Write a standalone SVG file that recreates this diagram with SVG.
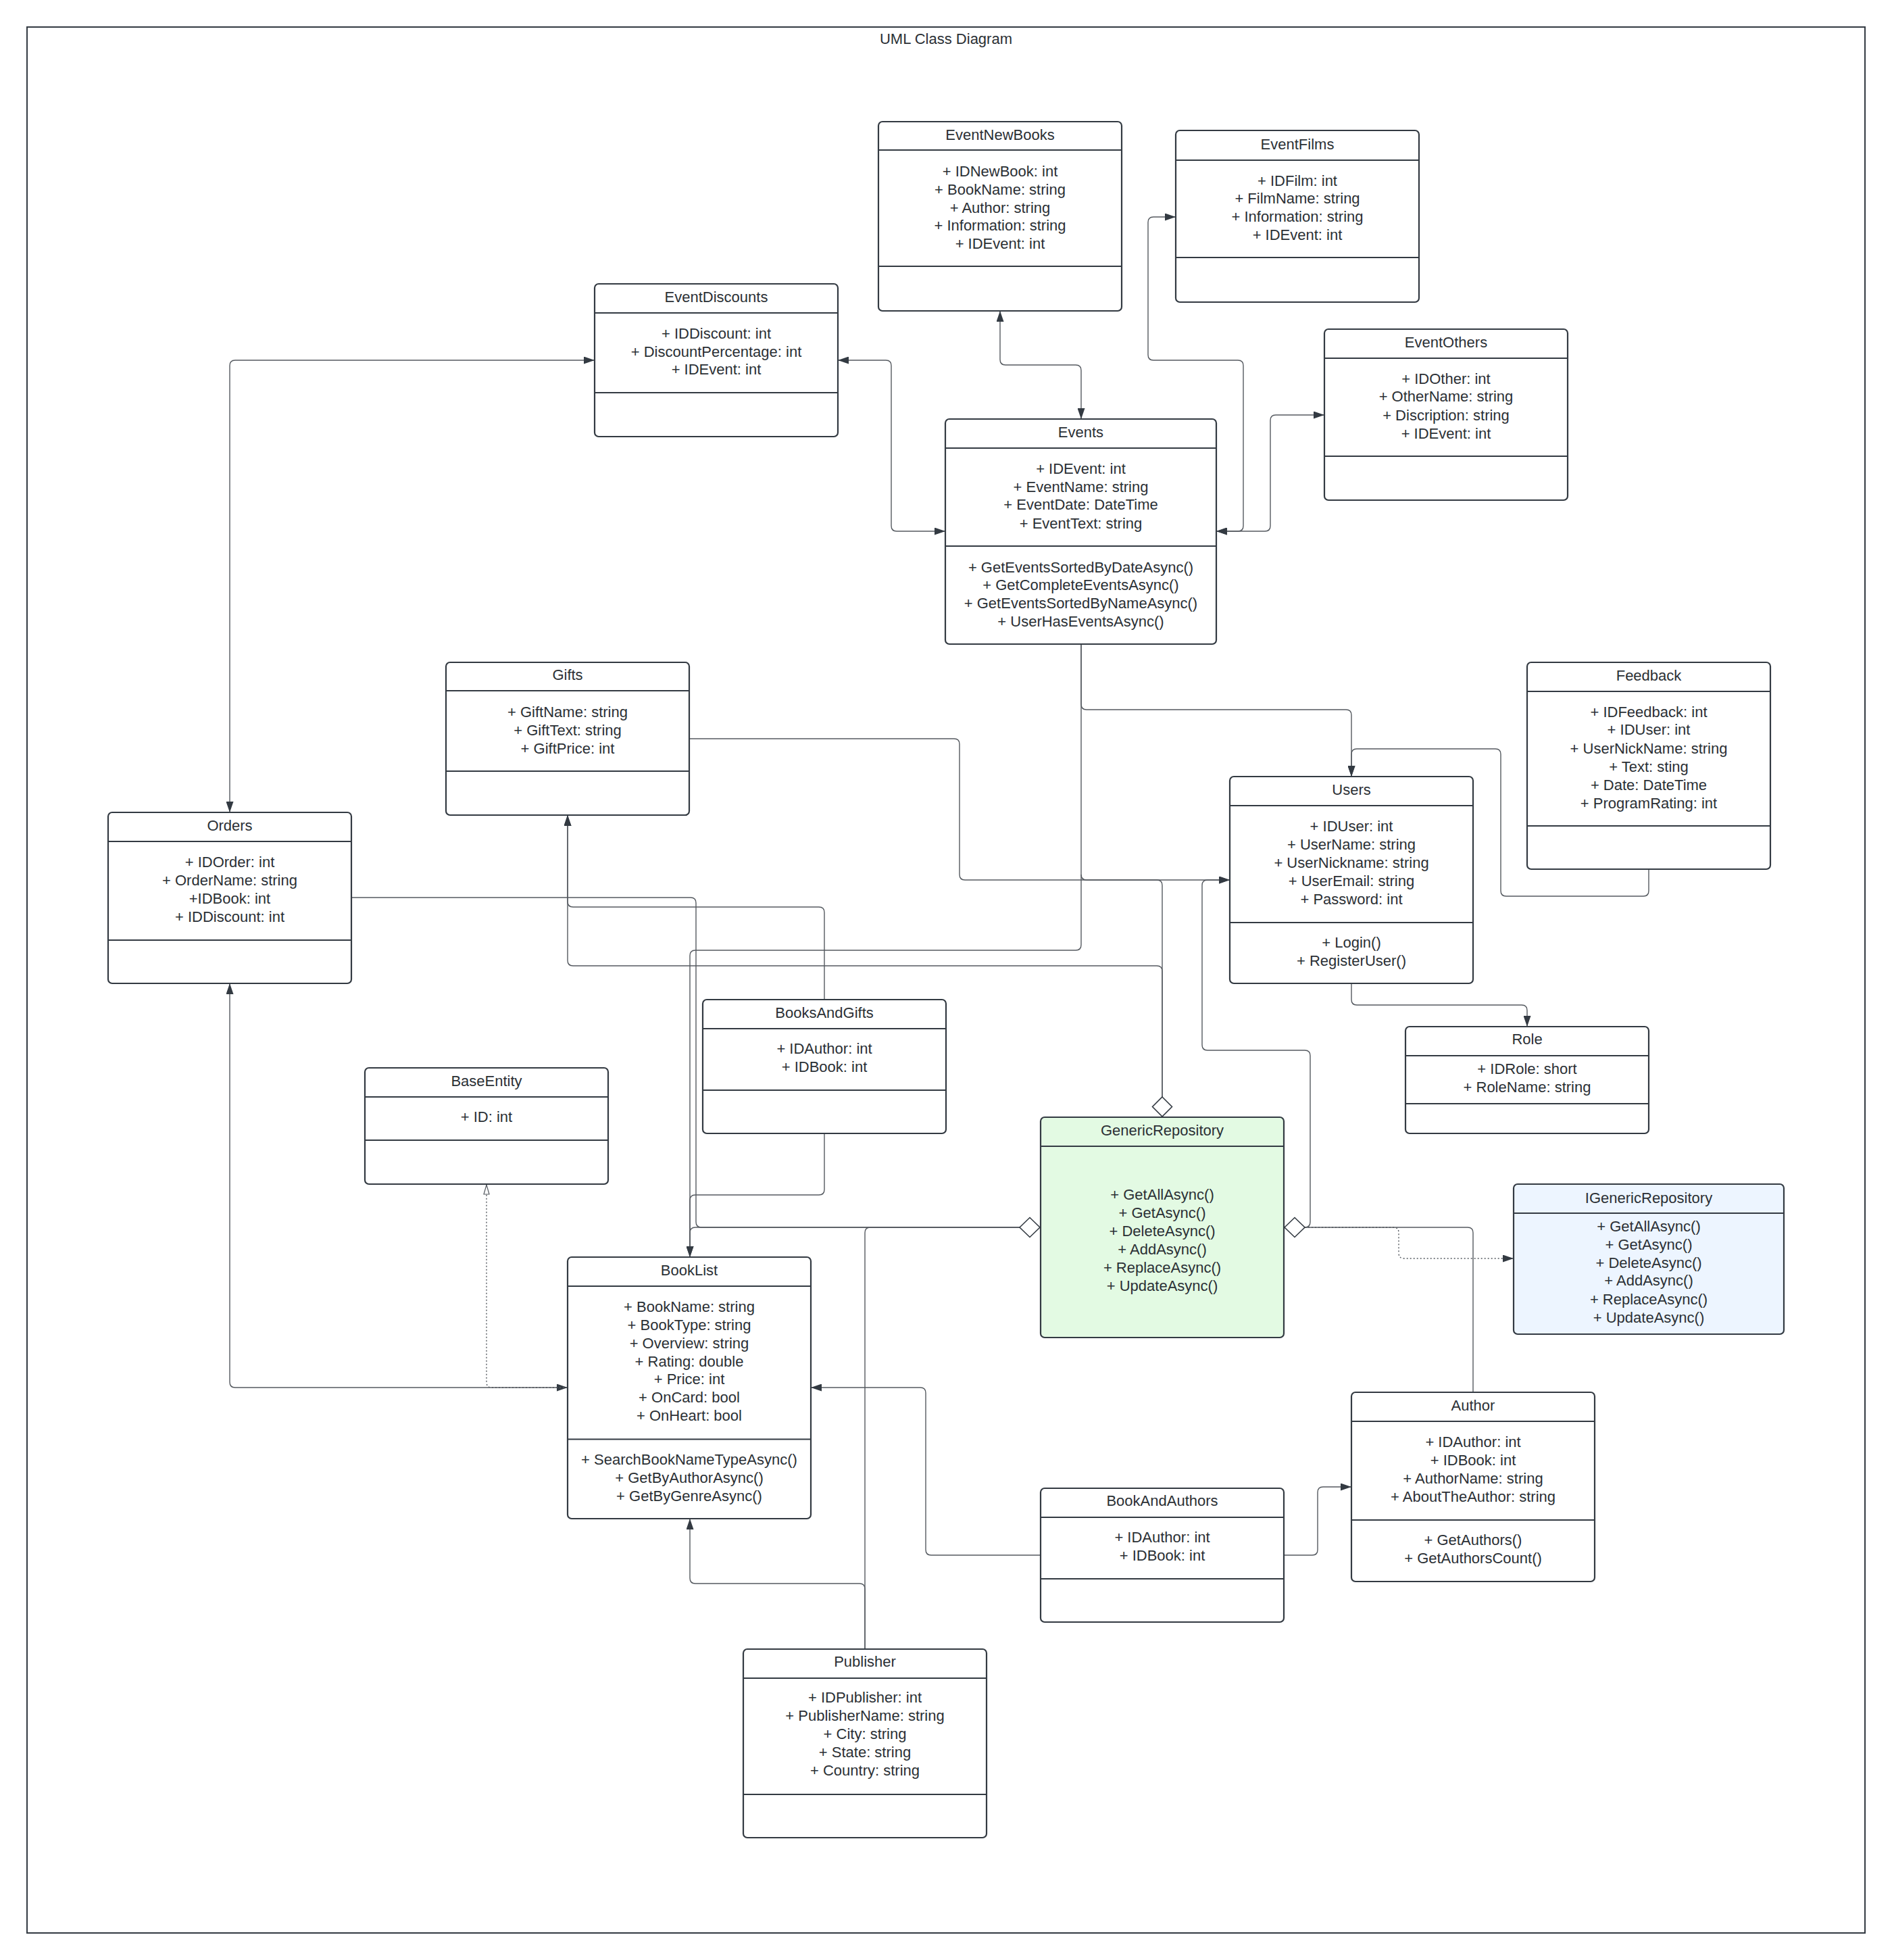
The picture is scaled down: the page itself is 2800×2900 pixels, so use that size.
<svg xmlns="http://www.w3.org/2000/svg" width="2800" height="2900" viewBox="0 0 2800 2900">
  <style>
    .box { fill: #ffffff; stroke: #333a42; stroke-width: 2.2; }
    .green { fill: #e3fae3; }
    .blue { fill: #edf5ff; }
    .div { stroke: #333a42; stroke-width: 2.2; }
    .t { font-family: "Liberation Sans", Arial, sans-serif; font-size: 22px; fill: #2b3035; text-anchor: middle; }
    .c { fill: none; stroke: #555a60; stroke-width: 1.4; }
    .dot { fill: none; stroke: #555a60; stroke-width: 1.4; stroke-dasharray: 2 3; }
    .dia { fill: #ffffff; stroke: #333a42; stroke-width: 1.6; }
  </style>
  <defs>
    <marker id="arrow" viewBox="0 0 16 11" refX="16" refY="5.5" markerWidth="16" markerHeight="11" markerUnits="userSpaceOnUse" orient="auto-start-reverse">
      <path d="M0,0 L16,5.5 L0,11 z" fill="#333a42"/>
    </marker>
    <marker id="hollow" viewBox="0 0 16 10" refX="15" refY="5" markerWidth="16" markerHeight="10" markerUnits="userSpaceOnUse" orient="auto">
      <path d="M1,1 L15,5 L1,9 z" fill="#ffffff" stroke="#555a60" stroke-width="1.2"/>
    </marker>
  </defs>

  <rect x="0" y="0" width="2800" height="2900" fill="#ffffff"/>

  <!-- outer frame and title -->
  <g id="frame">
    <rect x="40" y="40" width="2720" height="2820" fill="none" stroke="#333a42" stroke-width="2"/>
    <text class="t" x="1400" y="65">UML Class Diagram</text>
  </g>

  <!-- connectors -->
  <g id="connectors">
    <!-- EventNewBooks <-> Events -->
    <path class="c" d="M1480,460 V532 Q1480,540 1488,540 H1592 Q1600,540 1600,548 V620" marker-start="url(#arrow)" marker-end="url(#arrow)"/>
    <!-- EventDiscounts <-> Events -->
    <path class="c" d="M1240,533 H1311 Q1319,533 1319,541 V778 Q1319,786 1327,786 H1399" marker-start="url(#arrow)" marker-end="url(#arrow)"/>
    <!-- Events <-> EventFilms -->
    <path class="c" d="M1800,786 H1832 Q1840,786 1840,778 V541 Q1840,533 1832,533 H1707 Q1699,533 1699,525 V329 Q1699,321 1707,321 H1740" marker-start="url(#arrow)" marker-end="url(#arrow)"/>
    <!-- Events <-> EventOthers -->
    <path class="c" d="M1800,786 H1872 Q1880,786 1880,778 V622 Q1880,614 1888,614 H1960" marker-start="url(#arrow)" marker-end="url(#arrow)"/>
    <!-- Orders <-> EventDiscounts -->
    <path class="c" d="M340,1202 V541 Q340,533 348,533 H880" marker-start="url(#arrow)" marker-end="url(#arrow)"/>
    <!-- Events -> Users (top) -->
    <path class="c" d="M1600,953 V1042 Q1600,1050 1608,1050 H1992 Q2000,1050 2000,1058 V1149" marker-end="url(#arrow)"/>
    <!-- Feedback -> Users (top) -->
    <path class="c" d="M2440,1286 V1318 Q2440,1326 2432,1326 H2229 Q2221,1326 2221,1318 V1116 Q2221,1108 2213,1108 H2008 Q2000,1108 2000,1116 V1149" marker-end="url(#arrow)"/>
    <!-- Users -> Role -->
    <path class="c" d="M2000,1455 V1479 Q2000,1487 2008,1487 H2252 Q2260,1487 2260,1495 V1519" marker-end="url(#arrow)"/>
    <!-- Gifts -> Users (left) -->
    <path class="c" d="M1020,1093 H1412 Q1420,1093 1420,1101 V1294 Q1420,1302 1428,1302 H1820" marker-end="url(#arrow)"/>
    <!-- Events -> BookList (top) -->
    <path class="c" d="M1600,953 V1398 Q1600,1406 1592,1406 H1029 Q1021,1406 1021,1414 V1860" marker-end="url(#arrow)"/>
    <!-- Events branch towards Users -->
    <path class="c" d="M1600,1294 Q1600,1302 1608,1302 H1640"/>
    <!-- GenericRepository (top) branch along Users line -->
    <path class="c" d="M1640,1302 H1712 Q1720,1302 1720,1310 V1623"/>
    <!-- GenericRepository (top) -> Gifts -->
    <path class="c" d="M1720,1623 V1437 Q1720,1429 1712,1429 H848 Q840,1429 840,1421 V1206" marker-end="url(#arrow)"/>
    <!-- BooksAndGifts -> Gifts -->
    <path class="c" d="M1220,1479 V1350 Q1220,1342 1212,1342 H848 Q840,1342 840,1334 V1206" marker-end="url(#arrow)"/>
    <!-- Orders -> GenericRepository (left) -->
    <path class="c" d="M520,1328 H1022 Q1030,1328 1030,1336 V1808 Q1030,1816 1038,1816 H1509"/>
    <!-- BookList (top) -> GenericRepository (left) -->
    <path class="c" d="M1021,1860 V1824 Q1021,1816 1029,1816 H1509"/>
    <!-- BooksAndGifts -> BookList (top) -->
    <path class="c" d="M1220,1677 V1760 Q1220,1768 1212,1768 H1029 Q1021,1768 1021,1776 V1860" marker-end="url(#arrow)"/>
    <!-- GenericRepository (left) -> Publisher -->
    <path class="c" d="M1509,1816 H1288 Q1280,1816 1280,1824 V2440"/>
    <!-- Publisher -> BookList (bottom) -->
    <path class="c" d="M1280,2440 V2351 Q1280,2343 1272,2343 H1029 Q1021,2343 1021,2335 V2247" marker-end="url(#arrow)"/>
    <!-- BookAndAuthors -> BookList (right) -->
    <path class="c" d="M1540,2301 H1378 Q1370,2301 1370,2293 V2061 Q1370,2053 1362,2053 H1200" marker-end="url(#arrow)"/>
    <!-- BookAndAuthors -> Author -->
    <path class="c" d="M1900,2301 H1942 Q1950,2301 1950,2293 V2208 Q1950,2200 1958,2200 H2000" marker-end="url(#arrow)"/>
    <!-- GenericRepository (right) -> Author -->
    <path class="c" d="M1931,1816 H2172 Q2180,1816 2180,1824 V2060"/>
    <!-- GenericRepository (right) -> Users (left) -->
    <path class="c" d="M1931,1816 Q1939,1816 1939,1808 V1562 Q1939,1554 1931,1554 H1787 Q1779,1554 1779,1546 V1310 Q1779,1302 1787,1302 H1820" marker-end="url(#arrow)"/>
    <!-- GenericRepository realizes IGenericRepository -->
    <path class="dot" d="M1931,1816 H2062 Q2070,1816 2070,1824 V1854 Q2070,1862 2078,1862 H2240" marker-end="url(#arrow)"/>
    <!-- Orders <-> BookList -->
    <path class="c" d="M340,1455 V2045 Q340,2053 348,2053 H840" marker-start="url(#arrow)" marker-end="url(#arrow)"/>
    <!-- BookList realizes BaseEntity -->
    <path class="dot" d="M840,2053 H728 Q720,2053 720,2045 V1753" marker-end="url(#hollow)"/>

    <!-- aggregation diamonds on GenericRepository -->
    <polygon class="dia" points="1720,1623 1734.5,1637.5 1720,1652 1705.5,1637.5"/>
    <polygon class="dia" points="1509,1816 1524,1801.5 1539,1816 1524,1830.5"/>
    <polygon class="dia" points="1901,1816 1916,1801.5 1931,1816 1916,1830.5"/>
  </g>

  <g id="EventNewBooks">
    <rect class="box" x="1300" y="180" width="360" height="280" rx="6"/>
    <line class="div" x1="1300" y1="222" x2="1660" y2="222"/>
    <line class="div" x1="1300" y1="394" x2="1660" y2="394"/>
    <text class="t" x="1480" y="207">EventNewBooks</text>
    <text class="t" x="1480" y="261">+ IDNewBook: int</text>
    <text class="t" x="1480" y="288">+ BookName: string</text>
    <text class="t" x="1480" y="315">+ Author: string</text>
    <text class="t" x="1480" y="341">+ Information: string</text>
    <text class="t" x="1480" y="368">+ IDEvent: int</text>
  </g>

  <g id="EventFilms">
    <rect class="box" x="1740" y="193" width="360" height="254" rx="6"/>
    <line class="div" x1="1740" y1="237" x2="2100" y2="237"/>
    <line class="div" x1="1740" y1="381" x2="2100" y2="381"/>
    <text class="t" x="1920" y="221">EventFilms</text>
    <text class="t" x="1920" y="275">+ IDFilm: int</text>
    <text class="t" x="1920" y="301">+ FilmName: string</text>
    <text class="t" x="1920" y="328">+ Information: string</text>
    <text class="t" x="1920" y="355">+ IDEvent: int</text>
  </g>

  <g id="EventDiscounts">
    <rect class="box" x="880" y="420" width="360" height="226" rx="6"/>
    <line class="div" x1="880" y1="463" x2="1240" y2="463"/>
    <line class="div" x1="880" y1="581" x2="1240" y2="581"/>
    <text class="t" x="1060" y="447">EventDiscounts</text>
    <text class="t" x="1060" y="501">+ IDDiscount: int</text>
    <text class="t" x="1060" y="528">+ DiscountPercentage: int</text>
    <text class="t" x="1060" y="554">+ IDEvent: int</text>
  </g>

  <g id="EventOthers">
    <rect class="box" x="1960" y="487" width="360" height="253" rx="6"/>
    <line class="div" x1="1960" y1="530" x2="2320" y2="530"/>
    <line class="div" x1="1960" y1="675" x2="2320" y2="675"/>
    <text class="t" x="2140" y="514">EventOthers</text>
    <text class="t" x="2140" y="568">+ IDOther: int</text>
    <text class="t" x="2140" y="594">+ OtherName: string</text>
    <text class="t" x="2140" y="622">+ Discription: string</text>
    <text class="t" x="2140" y="649">+ IDEvent: int</text>
  </g>

  <g id="Events">
    <rect class="box" x="1399" y="620" width="401" height="333" rx="6"/>
    <line class="div" x1="1399" y1="663" x2="1800" y2="663"/>
    <line class="div" x1="1399" y1="808" x2="1800" y2="808"/>
    <text class="t" x="1599.5" y="647">Events</text>
    <text class="t" x="1599.5" y="701">+ IDEvent: int</text>
    <text class="t" x="1599.5" y="728">+ EventName: string</text>
    <text class="t" x="1599.5" y="754">+ EventDate: DateTime</text>
    <text class="t" x="1599.5" y="782">+ EventText: string</text>
    <text class="t" x="1599.5" y="847">+ GetEventsSortedByDateAsync()</text>
    <text class="t" x="1599.5" y="873">+ GetCompleteEventsAsync()</text>
    <text class="t" x="1599.5" y="900">+ GetEventsSortedByNameAsync()</text>
    <text class="t" x="1599.5" y="927">+ UserHasEventsAsync()</text>
  </g>

  <g id="Gifts">
    <rect class="box" x="660" y="980" width="360" height="226" rx="6"/>
    <line class="div" x1="660" y1="1022" x2="1020" y2="1022"/>
    <line class="div" x1="660" y1="1141" x2="1020" y2="1141"/>
    <text class="t" x="840" y="1006">Gifts</text>
    <text class="t" x="840" y="1061">+ GiftName: string</text>
    <text class="t" x="840" y="1088">+ GiftText: string</text>
    <text class="t" x="840" y="1115">+ GiftPrice: int</text>
  </g>

  <g id="Feedback">
    <rect class="box" x="2260" y="980" width="360" height="306" rx="6"/>
    <line class="div" x1="2260" y1="1023" x2="2620" y2="1023"/>
    <line class="div" x1="2260" y1="1222" x2="2620" y2="1222"/>
    <text class="t" x="2440" y="1007">Feedback</text>
    <text class="t" x="2440" y="1061">+ IDFeedback: int</text>
    <text class="t" x="2440" y="1087">+ IDUser: int</text>
    <text class="t" x="2440" y="1115">+ UserNickName: string</text>
    <text class="t" x="2440" y="1142">+ Text: sting</text>
    <text class="t" x="2440" y="1169">+ Date: DateTime</text>
    <text class="t" x="2440" y="1196">+ ProgramRating: int</text>
  </g>

  <g id="Users">
    <rect class="box" x="1820" y="1149" width="360" height="306" rx="6"/>
    <line class="div" x1="1820" y1="1192" x2="2180" y2="1192"/>
    <line class="div" x1="1820" y1="1365" x2="2180" y2="1365"/>
    <text class="t" x="2000" y="1176">Users</text>
    <text class="t" x="2000" y="1230">+ IDUser: int</text>
    <text class="t" x="2000" y="1257">+ UserName: string</text>
    <text class="t" x="2000" y="1284">+ UserNickname: string</text>
    <text class="t" x="2000" y="1311">+ UserEmail: string</text>
    <text class="t" x="2000" y="1338">+ Password: int</text>
    <text class="t" x="2000" y="1402">+ Login()</text>
    <text class="t" x="2000" y="1429">+ RegisterUser()</text>
  </g>

  <g id="Orders">
    <rect class="box" x="160" y="1202" width="360" height="253" rx="6"/>
    <line class="div" x1="160" y1="1245" x2="520" y2="1245"/>
    <line class="div" x1="160" y1="1391" x2="520" y2="1391"/>
    <text class="t" x="340" y="1229">Orders</text>
    <text class="t" x="340" y="1283">+ IDOrder: int</text>
    <text class="t" x="340" y="1310">+ OrderName: string</text>
    <text class="t" x="340" y="1337">+IDBook: int</text>
    <text class="t" x="340" y="1364">+ IDDiscount: int</text>
  </g>

  <g id="BooksAndGifts">
    <rect class="box" x="1040" y="1479" width="360" height="198" rx="6"/>
    <line class="div" x1="1040" y1="1522" x2="1400" y2="1522"/>
    <line class="div" x1="1040" y1="1613" x2="1400" y2="1613"/>
    <text class="t" x="1220" y="1506">BooksAndGifts</text>
    <text class="t" x="1220" y="1559">+ IDAuthor: int</text>
    <text class="t" x="1220" y="1586">+ IDBook: int</text>
  </g>

  <g id="Role">
    <rect class="box" x="2080" y="1519" width="360" height="158" rx="6"/>
    <line class="div" x1="2080" y1="1562" x2="2440" y2="1562"/>
    <line class="div" x1="2080" y1="1633" x2="2440" y2="1633"/>
    <text class="t" x="2260" y="1545">Role</text>
    <text class="t" x="2260" y="1589">+ IDRole: short</text>
    <text class="t" x="2260" y="1616">+ RoleName: string</text>
  </g>

  <g id="BaseEntity">
    <rect class="box" x="540" y="1580" width="360" height="172" rx="6"/>
    <line class="div" x1="540" y1="1623" x2="900" y2="1623"/>
    <line class="div" x1="540" y1="1687" x2="900" y2="1687"/>
    <text class="t" x="720" y="1607">BaseEntity</text>
    <text class="t" x="720" y="1660">+ ID: int</text>
  </g>

  <g id="GenericRepository">
    <rect class="box green" x="1540" y="1653" width="360" height="326" rx="6"/>
    <line class="div" x1="1540" y1="1696" x2="1900" y2="1696"/>
    <text class="t" x="1720" y="1680">GenericRepository</text>
    <text class="t" x="1720" y="1775">+ GetAllAsync()</text>
    <text class="t" x="1720" y="1802">+ GetAsync()</text>
    <text class="t" x="1720" y="1829">+ DeleteAsync()</text>
    <text class="t" x="1720" y="1856">+ AddAsync()</text>
    <text class="t" x="1720" y="1883">+ ReplaceAsync()</text>
    <text class="t" x="1720" y="1910">+ UpdateAsync()</text>
  </g>

  <g id="IGenericRepository">
    <rect class="box blue" x="2240" y="1752" width="400" height="222" rx="6"/>
    <line class="div" x1="2240" y1="1795" x2="2640" y2="1795"/>
    <text class="t" x="2440" y="1780">IGenericRepository</text>
    <text class="t" x="2440" y="1822">+ GetAllAsync()</text>
    <text class="t" x="2440" y="1849">+ GetAsync()</text>
    <text class="t" x="2440" y="1876">+ DeleteAsync()</text>
    <text class="t" x="2440" y="1902">+ AddAsync()</text>
    <text class="t" x="2440" y="1930">+ ReplaceAsync()</text>
    <text class="t" x="2440" y="1957">+ UpdateAsync()</text>
  </g>

  <g id="BookList">
    <rect class="box" x="840" y="1860" width="360" height="387" rx="6"/>
    <line class="div" x1="840" y1="1903" x2="1200" y2="1903"/>
    <line class="div" x1="840" y1="2129.5" x2="1200" y2="2129.5"/>
    <text class="t" x="1020" y="1887">BookList</text>
    <text class="t" x="1020" y="1941">+ BookName: string</text>
    <text class="t" x="1020" y="1968">+ BookType: string</text>
    <text class="t" x="1020" y="1995">+ Overview: string</text>
    <text class="t" x="1020" y="2022">+ Rating: double</text>
    <text class="t" x="1020" y="2048">+ Price: int</text>
    <text class="t" x="1020" y="2075">+ OnCard: bool</text>
    <text class="t" x="1020" y="2102">+ OnHeart: bool</text>
    <text class="t" x="1020" y="2167">+ SearchBookNameTypeAsync()</text>
    <text class="t" x="1020" y="2194">+ GetByAuthorAsync()</text>
    <text class="t" x="1020" y="2221">+ GetByGenreAsync()</text>
  </g>

  <g id="Author">
    <rect class="box" x="2000" y="2060" width="360" height="280" rx="6"/>
    <line class="div" x1="2000" y1="2103" x2="2360" y2="2103"/>
    <line class="div" x1="2000" y1="2249" x2="2360" y2="2249"/>
    <text class="t" x="2180" y="2087">Author</text>
    <text class="t" x="2180" y="2141">+ IDAuthor: int</text>
    <text class="t" x="2180" y="2168">+ IDBook: int</text>
    <text class="t" x="2180" y="2195">+ AuthorName: string</text>
    <text class="t" x="2180" y="2222">+ AboutTheAuthor: string</text>
    <text class="t" x="2180" y="2286">+ GetAuthors()</text>
    <text class="t" x="2180" y="2313">+ GetAuthorsCount()</text>
  </g>

  <g id="BookAndAuthors">
    <rect class="box" x="1540" y="2202" width="360" height="198" rx="6"/>
    <line class="div" x1="1540" y1="2245" x2="1900" y2="2245"/>
    <line class="div" x1="1540" y1="2336" x2="1900" y2="2336"/>
    <text class="t" x="1720" y="2228">BookAndAuthors</text>
    <text class="t" x="1720" y="2282">+ IDAuthor: int</text>
    <text class="t" x="1720" y="2309">+ IDBook: int</text>
  </g>

  <g id="Publisher">
    <rect class="box" x="1100" y="2440" width="360" height="279" rx="6"/>
    <line class="div" x1="1100" y1="2483" x2="1460" y2="2483"/>
    <line class="div" x1="1100" y1="2655" x2="1460" y2="2655"/>
    <text class="t" x="1280" y="2466">Publisher</text>
    <text class="t" x="1280" y="2519">+ IDPublisher: int</text>
    <text class="t" x="1280" y="2546">+ PublisherName: string</text>
    <text class="t" x="1280" y="2573">+ City: string</text>
    <text class="t" x="1280" y="2600">+ State: string</text>
    <text class="t" x="1280" y="2627">+ Country: string</text>
  </g>
</svg>
